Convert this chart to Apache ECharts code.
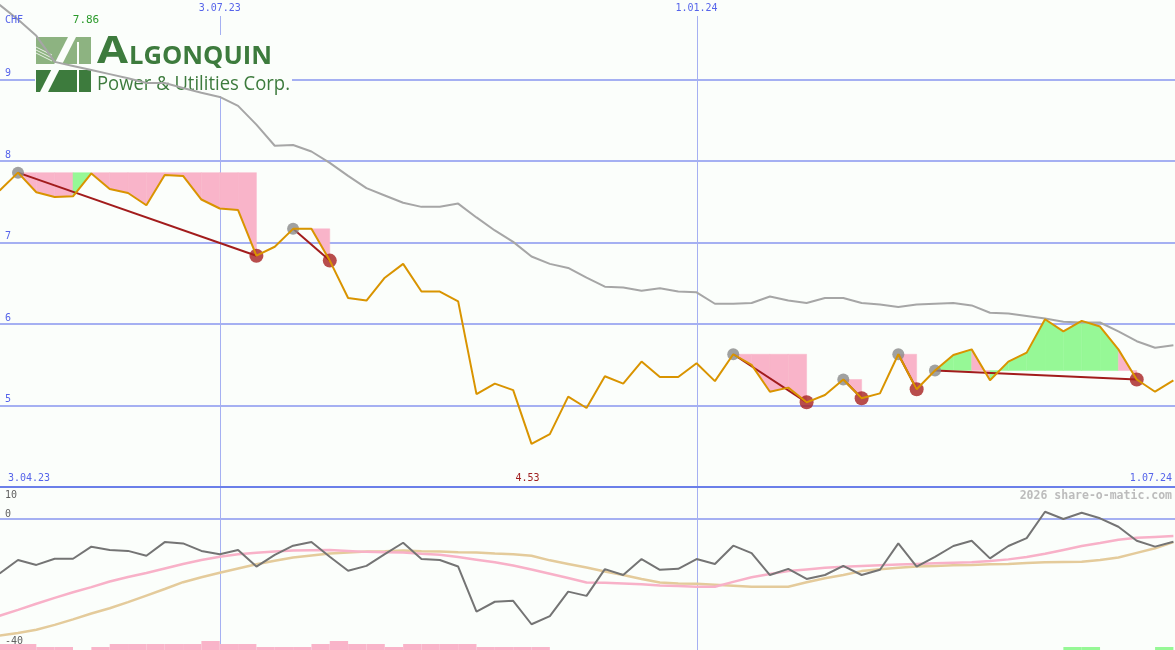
<!DOCTYPE html>
<html><head><meta charset="utf-8">
<script src="https://cdn.jsdelivr.net/npm/echarts@6/dist/echarts.min.js"></script>
<style>html,body{margin:0;padding:0;background:#fbfefb;}#c{width:1175px;height:650px;}</style>
</head><body><div id="c"></div>
<script>
// ---------- DATA (weekly, first point = week of 10.04.23) ----------
const firstWeek = '10.04.23';
const currency = 'CHF';
const watermark = '2026 share-o-matic.com';
const gridDates = ['3.07.23', '1.01.24'];
const rangeLabels = ['3.04.23', '1.07.24'];
const priceTicks = [5, 6, 7, 8, 9];
const lowerTicks = [10, 0, -40];

const price = [7.64, 7.86, 7.62, 7.56, 7.57, 7.85, 7.66, 7.61, 7.46, 7.83,
  7.82, 7.53, 7.42, 7.40, 6.84, 6.95, 7.17, 7.17, 6.78, 6.32,
  6.29, 6.57, 6.74, 6.40, 6.40, 6.28, 5.14, 5.27, 5.19, 4.53,
  4.65, 5.11, 4.97, 5.36, 5.27, 5.54, 5.35, 5.35, 5.52, 5.30,
  5.63, 5.50, 5.17, 5.22, 5.04, 5.13, 5.32, 5.09, 5.15, 5.63,
  5.20, 5.43, 5.62, 5.69, 5.31, 5.54, 5.65, 6.06, 5.91, 6.04,
  5.97, 5.69, 5.32, 5.17, 5.31];

const trendAvg = [9.92, 9.74, 9.54, 9.22, 9.17, 9.12, 9.07, 9.02, 8.96, 8.96,
  8.90, 8.84, 8.79, 8.68, 8.45, 8.19, 8.20, 8.12, 7.98, 7.82,
  7.67, 7.58, 7.49, 7.44, 7.44, 7.48, 7.31, 7.15, 7.01, 6.83,
  6.74, 6.69, 6.57, 6.46, 6.45, 6.41, 6.44, 6.40, 6.39, 6.25,
  6.25, 6.26, 6.34, 6.29, 6.26, 6.32, 6.32, 6.26, 6.24, 6.21,
  6.24, 6.25, 6.26, 6.23, 6.14, 6.13, 6.10, 6.07, 6.03, 6.02,
  6.02, 5.91, 5.79, 5.71, 5.74];

const momentum = [-16.7, -12.6, -14.1, -12.2, -12.2, -8.5, -9.5, -9.8, -11.3, -7.1,
  -7.5, -9.8, -10.8, -9.5, -14.6, -11.0, -8.2, -7.1, -11.6, -15.9,
  -14.4, -10.8, -7.3, -12.3, -12.6, -14.6, -28.4, -25.4, -25.1, -32.3,
  -29.8, -22.3, -23.6, -15.4, -17.2, -12.3, -15.6, -15.3, -12.3, -13.8,
  -8.2, -10.5, -17.2, -15.3, -18.4, -17.2, -14.4, -17.2, -15.6, -7.5,
  -14.6, -11.6, -8.3, -6.7, -12.1, -8.3, -5.9, 2.2, 0, 1.9,
  0.2, -2.4, -6.7, -8.5, -7.0];

const momentumFast = [-29.7, -27.9, -26.0, -24.2, -22.5, -20.9, -19.2, -17.8, -16.6, -15.2,
  -13.8, -12.6, -11.6, -10.8, -10.4, -10.0, -9.7, -9.6, -9.5, -9.8,
  -10.1, -10.2, -10.3, -10.7, -11.0, -11.7, -12.5, -13.3, -14.3, -15.5,
  -16.8, -18.1, -19.5, -19.6, -19.8, -20.0, -20.4, -20.6, -20.8, -20.8,
  -19.3, -17.9, -16.9, -16.0, -15.5, -15.0, -14.7, -14.4, -14.2, -14.0,
  -13.8, -13.6, -13.4, -13.3, -12.9, -12.4, -11.7, -10.7, -9.5, -8.3,
  -7.4, -6.4, -5.8, -5.5, -5.2];

const momentumSlow = [-35.8, -35.0, -34.0, -32.5, -30.8, -29.0, -27.4, -25.5, -23.5, -21.5,
  -19.4, -17.9, -16.5, -15.2, -13.9, -12.8, -11.8, -11.2, -10.6, -10.3,
  -10.0, -9.9, -9.7, -9.9, -10.0, -10.2, -10.3, -10.6, -10.8, -11.3,
  -12.7, -13.8, -14.9, -16.1, -17.2, -18.4, -19.5, -19.8, -19.9, -20.2,
  -20.5, -20.8, -20.8, -20.8, -19.4, -18.2, -17.2, -16.0, -15.4, -15.0,
  -14.6, -14.4, -14.2, -14.1, -13.9, -13.8, -13.5, -13.3, -13.2, -13.1,
  -12.6, -11.8, -10.4, -9.0, -7.1];

// weekly signal strength (negative = weak/pink, positive = strong/green)
const signal = [-2, -2, -2, -1, -1, 0, -1, -2, -2, -2,
  -2, -2, -3, -2, -2, -1, -1, -1, -2, -3,
  -2, -2, -1, -2, -2, -2, -2, -1, -1, -1,
  -1, 0, 0, 0, 0, 0, 0, 0, 0, 0,
  0, 0, 0, 0, 0, 0, 0, 0, 0, 0,
  0, 0, 0, 0, 0, 0, 0, 0, 0, 1,
  1, 0, 0, 0, 1];

// drawdown episodes: peak week, end week, weeks whose segment is shaded green
const zonePeaks = [1, 16, 40, 46, 49, 51];
const zoneEnds = [14, 18, 44, 47, 50, 62];
const zoneUpWeeks = [[4], [16], [], [], [], [51, 52, 54, 55, 56, 57, 58, 59, 60]];

// ---------- helpers ----------
function parseDMY(s) { const p = s.split('.').map(Number); return Date.UTC(2000 + p[2], p[1] - 1, p[0]); }
function weekOf(s) { return (parseDMY(s) - parseDMY(firstWeek)) / (7 * 864e5); }

const BG = '#fbfefb';
const GRID = '#a5b0f2';
const BLUE_TXT = '#5664ea';
const PINK = '#f9b4c9';
const GREEN = '#96f896';
const MONO = "'DejaVu Sans Mono', monospace";

const seriesPts = arr => arr.map((v, j) => [j, v]);

const zoneData = [];
zonePeaks.forEach((pk, z) => {
  const lvl = price[pk];
  for (let j = pk; j < zoneEnds[z]; j++) zoneData.push([j, lvl, zoneUpWeeks[z].includes(j) ? 1 : 0]);
});
const trendData = zonePeaks.map((pk, z) => [pk, price[pk], zoneEnds[z], price[zoneEnds[z]]]);
const dateLineData = gridDates.map(d => [weekOf(d), 4]);

const X_MIN = 0.0185, X_MAX = 64.087;

const chart = echarts.init(document.getElementById('c'), null, { renderer: 'canvas' });

const option = {
  animation: false,
  backgroundColor: BG,
  grid: [
    { left: 0, right: 0, top: 0, height: 487 },
    { left: 0, right: 0, top: 487, height: 163 }
  ],
  xAxis: [
    { type: 'value', gridIndex: 0, min: X_MIN, max: X_MAX, axisLabel: { show: false }, axisTick: { show: false },
      splitLine: { show: false }, axisLine: { show: true, onZero: false, lineStyle: { color: '#6b7fe9', width: 2 } } },
    { type: 'value', gridIndex: 1, min: X_MIN, max: X_MAX, show: false }
  ],
  yAxis: [
    { type: 'value', gridIndex: 0, min: 4, max: 9.98, interval: 1, axisLabel: { show: false }, axisLine: { show: false },
      axisTick: { show: false },
      splitLine: { show: true, showMinLine: false, showMaxLine: false, lineStyle: { color: GRID, width: 2 } } },
    { type: 'value', gridIndex: 1, min: -40.2, max: 9.8, show: false, splitLine: { show: false } },
    { type: 'value', gridIndex: 1, min: 0, max: 54.3, show: false, splitLine: { show: false } }
  ],
  series: [
    // vertical date lines (main panel)
    { type: 'custom', xAxisIndex: 0, yAxisIndex: 0, z: 0, silent: true, data: dateLineData,
      encode: { x: 0, y: 1 },
      renderItem: (params, api) => {
        const x = Math.round(api.coord([api.value(0), 4])[0]) + 0.5;
        const cs = params.coordSys;
        return { type: 'line', shape: { x1: x, y1: cs.y + 16, x2: x, y2: cs.y + cs.height }, style: { stroke: GRID, lineWidth: 1 } };
      } },
    // vertical date lines (lower panel)
    { type: 'custom', xAxisIndex: 1, yAxisIndex: 1, z: 0, silent: true, data: dateLineData.map(d => [d[0], 0]),
      encode: { x: 0, y: 1 },
      renderItem: (params, api) => {
        const x = Math.round(api.coord([api.value(0), 0])[0]) + 0.5;
        const cs = params.coordSys;
        return { type: 'line', shape: { x1: x, y1: cs.y, x2: x, y2: cs.y + cs.height }, style: { stroke: GRID, lineWidth: 1 } };
      } },
    // zero line lower panel
    { type: 'custom', xAxisIndex: 1, yAxisIndex: 1, z: 1, silent: true, data: [[1, 0]], encode: { x: 0, y: 1 },
      renderItem: (params, api) => {
        const y = api.coord([1, 0])[1];
        const cs = params.coordSys;
        return { type: 'line', shape: { x1: cs.x, y1: y, x2: cs.x + cs.width, y2: y }, style: { stroke: GRID, lineWidth: 2 } };
      } },
    // drawdown zones
    { type: 'custom', xAxisIndex: 0, yAxisIndex: 0, z: 3, silent: true, data: zoneData, encode: { x: 0, y: 1 },
      renderItem: (params, api) => {
        const j = api.value(0), lvl = api.value(1), up = api.value(2);
        const a = api.coord([j, lvl]), b = api.coord([j, price[j]]), c = api.coord([j + 1, price[j + 1]]), d = api.coord([j + 1, lvl]);
        return { type: 'polygon', shape: { points: [a, b, c, d] }, style: { fill: up ? GREEN : PINK, stroke: up ? GREEN : PINK, lineWidth: 0.5 } };
      } },
    // trend lines peak -> end
    { type: 'custom', xAxisIndex: 0, yAxisIndex: 0, z: 4, silent: true, data: trendData, encode: { x: [0, 2], y: [1, 3] },
      renderItem: (params, api) => {
        const a = api.coord([api.value(0), api.value(1)]), b = api.coord([api.value(2), api.value(3)]);
        return { type: 'line', shape: { x1: a[0], y1: a[1], x2: b[0], y2: b[1] }, style: { stroke: '#a21c1c', lineWidth: 2 } };
      } },
    // gray average
    { type: 'line', xAxisIndex: 0, yAxisIndex: 0, z: 5, data: seriesPts(trendAvg), showSymbol: false, silent: true,
      lineStyle: { color: '#a6a6a6', width: 2 } },
    // peak markers
    { type: 'scatter', xAxisIndex: 0, yAxisIndex: 0, z: 6, silent: true, symbolSize: 12,
      itemStyle: { color: '#8a8a8a' }, data: zonePeaks.map(pk => [pk, price[pk]]) },
    // end markers
    { type: 'scatter', xAxisIndex: 0, yAxisIndex: 0, z: 6, silent: true, symbolSize: 14,
      itemStyle: { color: '#a82020' }, data: zoneEnds.map(e => [e, price[e]]) },
    // price
    { type: 'line', xAxisIndex: 0, yAxisIndex: 0, z: 7, data: seriesPts(price), showSymbol: false, silent: true,
      lineStyle: { color: '#d99400', width: 2 } },
    // lower panel
    { type: 'line', xAxisIndex: 1, yAxisIndex: 1, z: 4, data: seriesPts(momentumSlow), showSymbol: false, silent: true,
      lineStyle: { color: '#e4cb9b', width: 2.5 } },
    { type: 'line', xAxisIndex: 1, yAxisIndex: 1, z: 5, data: seriesPts(momentumFast), showSymbol: false, silent: true,
      lineStyle: { color: '#f8b1c8', width: 2.5 } },
    { type: 'line', xAxisIndex: 1, yAxisIndex: 1, z: 6, data: seriesPts(momentum), showSymbol: false, silent: true,
      lineStyle: { color: '#747474', width: 2 } },
    // signal bars
    { type: 'custom', xAxisIndex: 1, yAxisIndex: 2, z: 7, silent: true, clip: true,
      data: signal.map((v, j) => [j, v]), encode: { x: 0, y: 1 },
      renderItem: (params, api) => {
        const j = api.value(0), v = api.value(1);
        if (!v) return null;
        const p0 = api.coord([j - 1, 0]), p1 = api.coord([j, Math.abs(v)]);
        return { type: 'rect', shape: { x: p0[0], y: p1[1], width: p1[0] - p0[0], height: p0[1] - p1[1] },
          style: { fill: v < 0 ? PINK : GREEN } };
      } }
  ]
};
chart.setOption(option);

// ---------- text labels & logo ----------
const px0 = (x, y) => chart.convertToPixel({ xAxisIndex: 0, yAxisIndex: 0 }, [x, y]);
const px1 = (x, y) => chart.convertToPixel({ xAxisIndex: 1, yAxisIndex: 1 }, [x, y]);
const txt = (text, x, y, color, align, extra) => Object.assign({
  type: 'text', x: x, y: y, z: 100,
  style: { text: text, fill: color, font: '10px ' + MONO, align: align || 'left', verticalAlign: 'middle' }
}, extra || {});

const g = [];
priceTicks.forEach(t => g.push(txt(String(t), 5, px0(1, t)[1] - 6, BLUE_TXT)));
g.push(txt(currency, 5, 20, BLUE_TXT));
const maxV = Math.max(...price), minV = Math.min(...price);
const minIdx = price.indexOf(minV);
g.push(txt(maxV.toFixed(2), 86, 20, '#2a9a2a', 'center', { style: { text: maxV.toFixed(2), fill: '#2a9a2a', font: '11px ' + MONO, align: 'center', verticalAlign: 'middle' } }));
gridDates.forEach(d => g.push(txt(d, px0(weekOf(d), 4)[0], 8, BLUE_TXT, 'center')));
g.push(txt(rangeLabels[0], 8, 478, BLUE_TXT, 'left'));
g.push(txt(rangeLabels[1], 1172, 478, BLUE_TXT, 'right'));
g.push(txt(minV.toFixed(2), px0(minIdx, 4)[0] - 4, 478, '#a02020', 'center'));
g.push({ type: 'text', x: 1172, y: 496, z: 100,
  style: { text: watermark, fill: '#bcbcbc', font: 'bold 11.5px ' + MONO, align: 'right', verticalAlign: 'middle' } });
g.push(txt(String(lowerTicks[0]), 5, 495, '#606060'));
g.push(txt(String(lowerTicks[1]), 5, px1(1, 0)[1] - 5, '#606060'));
g.push(txt(String(lowerTicks[2]), 5, 641, '#606060'));

// logo
const LOGO = '#3d7b3d', LOGO_LIGHT = '#8db381';
const mctx = document.createElement('canvas').getContext('2d');
function fitScale(text, font, width) { mctx.font = font; return width / mctx.measureText(text).width; }
const fA = "bold 38px 'Open Sans'", fL = "bold 25px 'Open Sans'", fP = "20px 'Open Sans'";
const logo = [
  { type: 'rect', shape: { x: 35, y: 35, width: 257, height: 61 }, style: { fill: BG }, z: 1 },
  { type: 'rect', shape: { x: 36, y: 37, width: 55, height: 27 }, style: { fill: LOGO_LIGHT }, z: 1 },
  { type: 'rect', shape: { x: 36, y: 70, width: 55, height: 22 }, style: { fill: LOGO }, z: 1 },
  { type: 'polygon', shape: { points: [[40, 92], [48, 92], [76, 37], [68, 37]] }, style: { fill: BG }, z: 1 },
  { type: 'rect', shape: { x: 77, y: 42, width: 2, height: 50 }, style: { fill: BG }, z: 1 },
  { type: 'polyline', shape: { points: [[36, 47], [52, 55]] }, style: { stroke: '#ffffff', lineWidth: 0.8 }, z: 1 },
  { type: 'polyline', shape: { points: [[36, 50], [52, 58]] }, style: { stroke: '#ffffff', lineWidth: 0.8 }, z: 1 },
  { type: 'polyline', shape: { points: [[36, 53], [52, 61]] }, style: { stroke: '#ffffff', lineWidth: 0.8 }, z: 1 },
  { type: 'text', x: 97, y: 52, z: 1, scaleX: fitScale('A', fA, 31),
    style: { text: 'A', font: fA, fill: LOGO, verticalAlign: 'middle' } },
  { type: 'text', x: 129, y: 56.5, z: 1, scaleX: fitScale('LGONQUIN', fL, 143),
    style: { text: 'LGONQUIN', font: fL, fill: LOGO, verticalAlign: 'middle' } },
  { type: 'text', x: 97, y: 84, z: 1, scaleX: fitScale('Power & Utilities Corp.', fP, 193),
    style: { text: 'Power & Utilities Corp.', font: fP, fill: LOGO, verticalAlign: 'middle' } }
];
chart.setOption({ graphic: { elements: logo.concat(g) } });
</script>
</body></html>
